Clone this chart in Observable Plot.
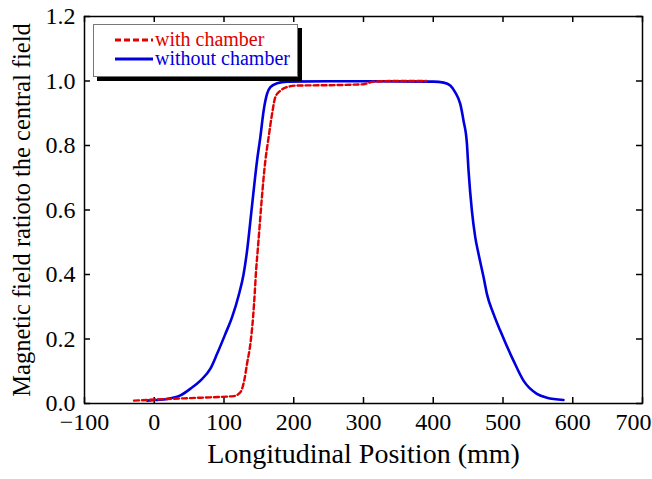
<!DOCTYPE html>
<html>
<head>
<meta charset="utf-8">
<script src="https://cdn.jsdelivr.net/npm/d3@7"></script>
<script src="https://cdn.jsdelivr.net/npm/@observablehq/plot@0.6"></script>
<style>
  body { margin: 0; background: #fff; }
  #wrap { position: relative; width: 652px; height: 479px; font-family: "Liberation Serif", serif; }
  #chart svg, #chart svg text { font-family: "Liberation Serif", serif !important; }
  #legend { position: absolute; left: 93px; top: 24px; width: 203px; height: 51px; background: #fff;
    border: 1px solid #777; box-shadow: 4px 4px 0 #000; font-size: 20px; }
  .row { position: absolute; left: 0; display: flex; align-items: center; }
  .sw { width: 38px; margin-left: 21px; margin-right: 2px; }
</style>
</head>
<body>
<div id="wrap">
  <div id="chart"></div>
  <div id="legend">
    <div class="row" style="top:3px;"><svg class="sw" width="38" height="12"><line x1="0" x2="38" y1="6" y2="6" stroke="#e00000" stroke-width="2.8" stroke-dasharray="6,3"/></svg><span style="color:#e00000">with chamber</span></div>
    <div class="row" style="top:22px;"><svg class="sw" width="38" height="12"><line x1="0" x2="38" y1="6" y2="6" stroke="#0000dd" stroke-width="3"/></svg><span style="color:#0000dd">without chamber</span></div>
  </div>
</div>
<script>
// with chamber (red dashed)
const withX = [-29, 18, 66, 114, 123.5, 129, 133, 137.8, 141.7, 144, 146, 148.3, 159.3, 164, 168.9, 173.6, 180.8, 190.4, 205, 250, 300, 315, 350, 390];
const withY = [0.009, 0.014, 0.018, 0.023, 0.035, 0.071, 0.123, 0.185, 0.268, 0.34, 0.412, 0.474, 0.753, 0.826, 0.898, 0.95, 0.97, 0.981, 0.986, 0.987, 0.99, 0.998, 1.0, 1.0];
// without chamber (blue solid)
const woX = [-10, 1.7, 18.5, 37.5, 51.9, 66.2, 80.5, 90.1, 102, 111.6, 121, 128, 133.1, 140, 147.4, 152.1, 156.9, 161.7, 166.5, 176.1, 190.4, 250, 300, 400, 415, 424.4, 431.5, 438.7, 443.4, 448.3, 450.6, 455.4, 460.2, 464.9, 472.1, 476.9, 486.4, 496, 515, 529.4, 548.6, 562.9, 586.7];
const woY = [0.009, 0.011, 0.014, 0.025, 0.046, 0.071, 0.108, 0.154, 0.216, 0.268, 0.335, 0.40, 0.474, 0.61, 0.753, 0.826, 0.909, 0.96, 0.981, 0.993, 0.998, 0.999, 0.999, 0.998, 0.995, 0.986, 0.965, 0.929, 0.877, 0.805, 0.722, 0.598, 0.516, 0.464, 0.392, 0.34, 0.278, 0.226, 0.133, 0.071, 0.03, 0.018, 0.011];
const xTicks = [-100, 0, 100, 200, 300, 400, 500, 600, 700];
const yTicks = [0, 0.2, 0.4, 0.6, 0.8, 1.0, 1.2];
const xLabel = "Longitudinal Position (mm)";
const yLabel = "Magnetic field ratioto the central field";

const withData = withX.map((x, i) => ({x, y: withY[i]}));
const woData = woX.map((x, i) => ({x, y: woY[i]}));
const fmtX = d => d < 0 ? "\u2212" + Math.abs(d) : String(d);
const fmtY = d => d.toFixed(1);

const tx = 6 / 322.5;   // tick length in y units
const ty = 6 / 0.698;   // tick length in x units

const chart = Plot.plot({
  width: 652,
  height: 479,
  marginLeft: 84,
  marginRight: 10,
  marginTop: 16,
  marginBottom: 76,
  style: { fontFamily: "Liberation Serif, serif", background: "#fff", color: "#000" },
  x: { domain: [-100, 700], axis: null },
  y: { domain: [0, 1.2], axis: null },
  marks: [
    Plot.text(xTicks.slice(0, -1), { x: d => d, frameAnchor: "bottom", lineAnchor: "top", dy: 9, text: fmtX, fontSize: 24, fill: "#000" }),
    Plot.text(xTicks.slice(-1), { x: d => d, frameAnchor: "bottom", lineAnchor: "top", dy: 9, dx: -9, text: fmtX, fontSize: 24, fill: "#000" }),
    Plot.text(yTicks, { y: d => d, frameAnchor: "left", textAnchor: "end", dx: -9, text: fmtY, fontSize: 24, fill: "#000" }),
    Plot.ruleX(xTicks, { x: d => d, y1: 0, y2: tx, stroke: "#000", strokeWidth: 1.5 }),
    Plot.ruleX(xTicks, { x: d => d, y1: 1.2, y2: 1.2 - tx, stroke: "#000", strokeWidth: 1.5 }),
    Plot.ruleY(yTicks, { y: d => d, x1: -100, x2: -100 + ty, stroke: "#000", strokeWidth: 1.5 }),
    Plot.ruleY(yTicks, { y: d => d, x1: 700, x2: 700 - ty, stroke: "#000", strokeWidth: 1.5 }),
    Plot.line(woData, { x: "x", y: "y", stroke: "#0000dd", strokeWidth: 2.6, curve: "monotone-x" }),
    Plot.line(withData, { x: "x", y: "y", stroke: "#e00000", strokeWidth: 2.4, strokeDasharray: "5,3", curve: "monotone-x" }),
    Plot.frame({ stroke: "#000", strokeWidth: 1.5 }),
    Plot.text([xLabel], { frameAnchor: "bottom", dy: 59, fontSize: 28, fill: "#000" }),
    Plot.text([yLabel], { frameAnchor: "left", rotate: -90, textAnchor: "middle", dx: -62, fontSize: 24.5, fill: "#000" })
  ]
});
document.getElementById("chart").appendChild(chart);
</script>
</body>
</html>
